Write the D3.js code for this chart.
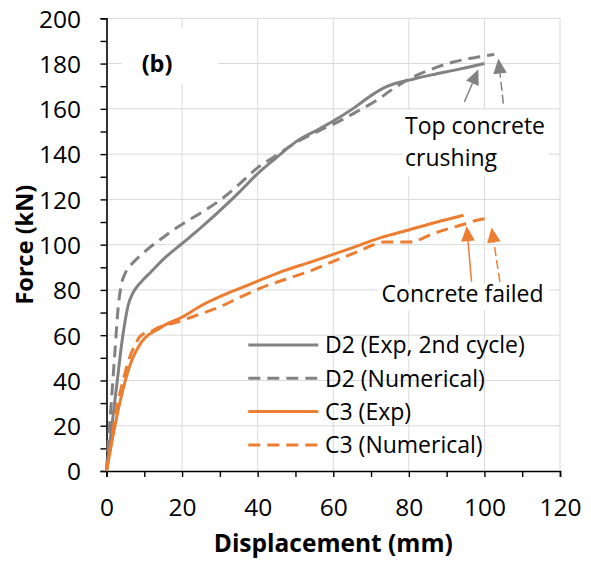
<!DOCTYPE html>
<html>
<head>
<meta charset="utf-8">
<script src="https://cdn.jsdelivr.net/npm/d3@7"></script>
<style>
  html, body { margin: 0; padding: 0; background: #fff; }
  svg { display: block; }
  text { font-family: "Open Sans", Lato, sans-serif; fill: #000; }
</style>
</head>
<body>
<svg id="chart" width="591" height="563"></svg>
<script>
// ---- data (Displacement in mm, Force in kN) ----
const d2ExpX = [0, 1, 2, 3, 4, 5, 5.7, 6.8, 7.9, 9.7, 11.5, 15, 20, 25, 30, 35, 40, 45, 50, 56.5, 62, 65.3, 68, 70.6, 74.1, 77, 80.3, 86, 91.8, 96, 100];
const d2ExpF = [0, 14, 28, 42, 56, 67, 73, 78, 81, 84.5, 87.5, 93.5, 100.5, 107.5, 115, 123, 131.4, 138.5, 145.3, 151.3, 156.6, 160.2, 163.5, 166.5, 169.8, 171.5, 172.8, 175, 177, 178.5, 180];

const d2NumX = [0, 0.4, 1.3, 2.2, 3.1, 4, 5, 6.2, 8.5, 10.6, 14, 17.6, 21, 24.7, 30, 35, 40, 45, 50, 56.5, 61, 65.3, 71.5, 76, 80.3, 86, 91.8, 97, 102.6];
const d2NumF = [0, 10.7, 31, 52, 72.5, 82.9, 87.5, 90.5, 94.5, 97.6, 102, 106.4, 110, 113.8, 119.6, 126.5, 134, 139.5, 145, 150.5, 154, 157.9, 163.8, 169, 173.4, 177.5, 180.7, 182.5, 184];

const c3ExpX = [0, 1, 2, 3.5, 5, 6.5, 8, 9.5, 11, 13, 16, 20, 25, 30, 35, 40.6, 47, 53.8, 60, 67, 73, 80, 87, 94.5];
const c3ExpF = [0, 9, 18, 30, 40, 48, 53.5, 57.5, 60, 62, 65, 68, 73, 77, 80.5, 84.3, 88.5, 92.2, 95.7, 99.8, 103.3, 106.5, 109.8, 113];

const c3NumX = [0, 1, 2.6, 4.4, 6.2, 7.5, 8.8, 10, 11.5, 14, 17, 20.3, 25, 30, 35, 40.6, 47, 53.8, 60, 67, 70, 73.7, 80.3, 86.5, 91, 95.3, 98, 101];
const c3NumF = [0, 10, 27, 40, 50.5, 55.5, 59.3, 60.8, 61.5, 63.5, 65, 66.7, 69.5, 72.5, 76.5, 80.7, 84.5, 88.3, 92.6, 97.3, 99.5, 101.2, 101.2, 104.9, 107.3, 109.4, 110.8, 111.6];

const seriesNames = ["D2 (Exp, 2nd cycle)", "D2 (Numerical)", "C3 (Exp)", "C3 (Numerical)"];
const xTickValues = [0, 20, 40, 60, 80, 100, 120];
const yTickValues = [0, 20, 40, 60, 80, 100, 120, 140, 160, 180, 200];
const xTitle = "Displacement (mm)";
const yTitle = "Force (kN)";
const panelLabel = "(b)";

// annotations in data coordinates [tailX, tailY, tipX, tipY, dashed]
const arrowsGray = [[94.7, 163, 98.4, 177.4, false], [105, 162.3, 103.7, 182.2, true]];
const arrowsOrange = [[96.6, 83.6, 95.3, 108.2, false], [104.1, 83.6, 101.9, 107.6, true]];
const noteTop = ["Top concrete", "crushing"];
const noteFail = "Concrete failed";

// ---- layout ----
const GRAY = "#828282", ORANGE = "#ED7D31", GRID = "#d9d9d9";
const L = 106.5, R = 560, T = 18.3, B = 471;
const FS = 23, FS_TICK = 24.5, FS_XT = 24.5, FS_YT = 23.5;

const svg = d3.select("#chart");
const x = d3.scaleLinear().domain([0, 120]).range([L, R]);
const y = d3.scaleLinear().domain([0, 200]).range([B, T]);

// gridlines
const grid = svg.append("g");
grid.selectAll("line.h").data(yTickValues.filter(v => v > 0)).join("line")
  .attr("x1", L).attr("x2", R).attr("y1", d => y(d)).attr("y2", d => y(d))
  .attr("stroke", GRID).attr("stroke-width", 1);
grid.selectAll("line.v").data(xTickValues.filter(v => v > 0)).join("line")
  .attr("y1", T).attr("y2", B).attr("x1", d => x(d)).attr("x2", d => x(d))
  .attr("stroke", GRID).attr("stroke-width", 1);

// white text boxes (Excel text boxes cover gridlines)
svg.append("rect").attr("x", x(4.1)).attr("y", y(195.5)).attr("width", x(29.7) - x(4.1)).attr("height", y(171) - y(195.5)).attr("fill", "#fff");
svg.append("rect").attr("x", x(78.5)).attr("y", y(159.5)).attr("width", x(117) - x(78.5)).attr("height", y(130.5) - y(159.5)).attr("fill", "#fff");
svg.append("rect").attr("x", x(71.8)).attr("y", y(82.5)).attr("width", x(117) - x(71.8)).attr("height", y(71) - y(82.5)).attr("fill", "#fff");

// axes
const xAxis = d3.axisBottom(x).tickValues(d3.range(0, 121, 10)).tickSize(6).tickFormat(d => xTickValues.includes(d) ? d : "");
const yAxis = d3.axisLeft(y).tickValues(d3.range(0, 201, 10)).tickSize(6).tickFormat(d => yTickValues.includes(d) ? d : "");
const gx = svg.append("g").attr("transform", `translate(0,${B})`).call(xAxis);
const gy = svg.append("g").attr("transform", `translate(${L},0)`).call(yAxis);
[gx, gy].forEach(g => {
  g.select(".domain").attr("stroke", "#000").attr("stroke-width", 1.6);
  g.selectAll(".tick line").attr("stroke", "#000").attr("stroke-width", 1.4);
  g.selectAll(".tick text").attr("font-family", "'Open Sans', sans-serif").attr("font-size", FS_TICK).attr("fill", "#000");
});
gx.selectAll(".tick text").attr("y", 44.5).attr("dy", null);
gy.selectAll(".tick text").attr("x", -25.5).attr("dy", "0.36em");

// axis titles
svg.append("text").attr("x", (L + R) / 2).attr("y", 552).attr("text-anchor", "middle")
  .attr("font-size", FS_XT).attr("font-weight", "bold").text(xTitle);
svg.append("text").attr("transform", `translate(33,${(T + B) / 2}) rotate(-90)`).attr("text-anchor", "middle")
  .attr("font-size", FS_YT).attr("font-weight", "bold").text(yTitle);

// series
const series = [
  { xs: d2ExpX, ys: d2ExpF, color: GRAY, dash: null },
  { xs: d2NumX, ys: d2NumF, color: GRAY, dash: "12,7" },
  { xs: c3ExpX, ys: c3ExpF, color: ORANGE, dash: null },
  { xs: c3NumX, ys: c3NumF, color: ORANGE, dash: "12,7" }
];
const line = d3.line().x(d => x(d[0])).y(d => y(d[1])).curve(d3.curveMonotoneX);
series.forEach(s => {
  svg.append("path").datum(s.xs.map((v, i) => [v, s.ys[i]]))
    .attr("d", line).attr("fill", "none").attr("stroke", s.color).attr("stroke-width", 3)
    .attr("stroke-linejoin", "round")
    .attr("stroke-dasharray", s.dash);
});

// arrows
function arrow(a, color) {
  const [x0, y0, x1, y1, dashed] = a;
  const px0 = x(x0), py0 = y(y0), px1 = x(x1), py1 = y(y1);
  const dx = px1 - px0, dy = py1 - py0, len = Math.hypot(dx, dy);
  const ux = dx / len, uy = dy / len;
  const hl = 15, hw = 6.8;
  const bx = px1 - ux * hl, by = py1 - uy * hl;
  svg.append("line").attr("x1", px0).attr("y1", py0).attr("x2", bx).attr("y2", by)
    .attr("stroke", color).attr("stroke-width", 1.5).attr("stroke-dasharray", dashed ? "9,4" : null);
  svg.append("path").attr("d", `M${px1},${py1}L${bx - uy * hw},${by + ux * hw}L${bx + uy * hw},${by - ux * hw}Z`)
    .attr("fill", color);
}
arrowsGray.forEach(a => arrow(a, GRAY));
arrowsOrange.forEach(a => arrow(a, ORANGE));

// annotation text
svg.append("text").attr("x", x(9.3)).attr("y", y(176.3)).attr("font-size", FS + 0.5).attr("font-weight", "bold").text(panelLabel);
svg.append("text").attr("x", x(79)).attr("y", y(148.8)).attr("font-size", FS).text(noteTop[0]);
svg.append("text").attr("x", x(79)).attr("y", y(134.7)).attr("font-size", FS).text(noteTop[1]);
svg.append("text").attr("x", x(72.8)).attr("y", y(74.7)).attr("font-size", FS).text(noteFail);

// legend
const lg = svg.append("g");
const legY0 = 345, legDY = 33.3;
series.forEach((s, i) => {
  const yy = legY0 + i * legDY;
  lg.append("line").attr("x1", 248.3).attr("x2", 318.3).attr("y1", yy).attr("y2", yy)
    .attr("stroke", s.color).attr("stroke-width", 3).attr("stroke-dasharray", s.dash);
  lg.append("text").attr("x", 325).attr("y", yy + 8.3).attr("font-size", FS).text(seriesNames[i]);
});
</script>
</body>
</html>
